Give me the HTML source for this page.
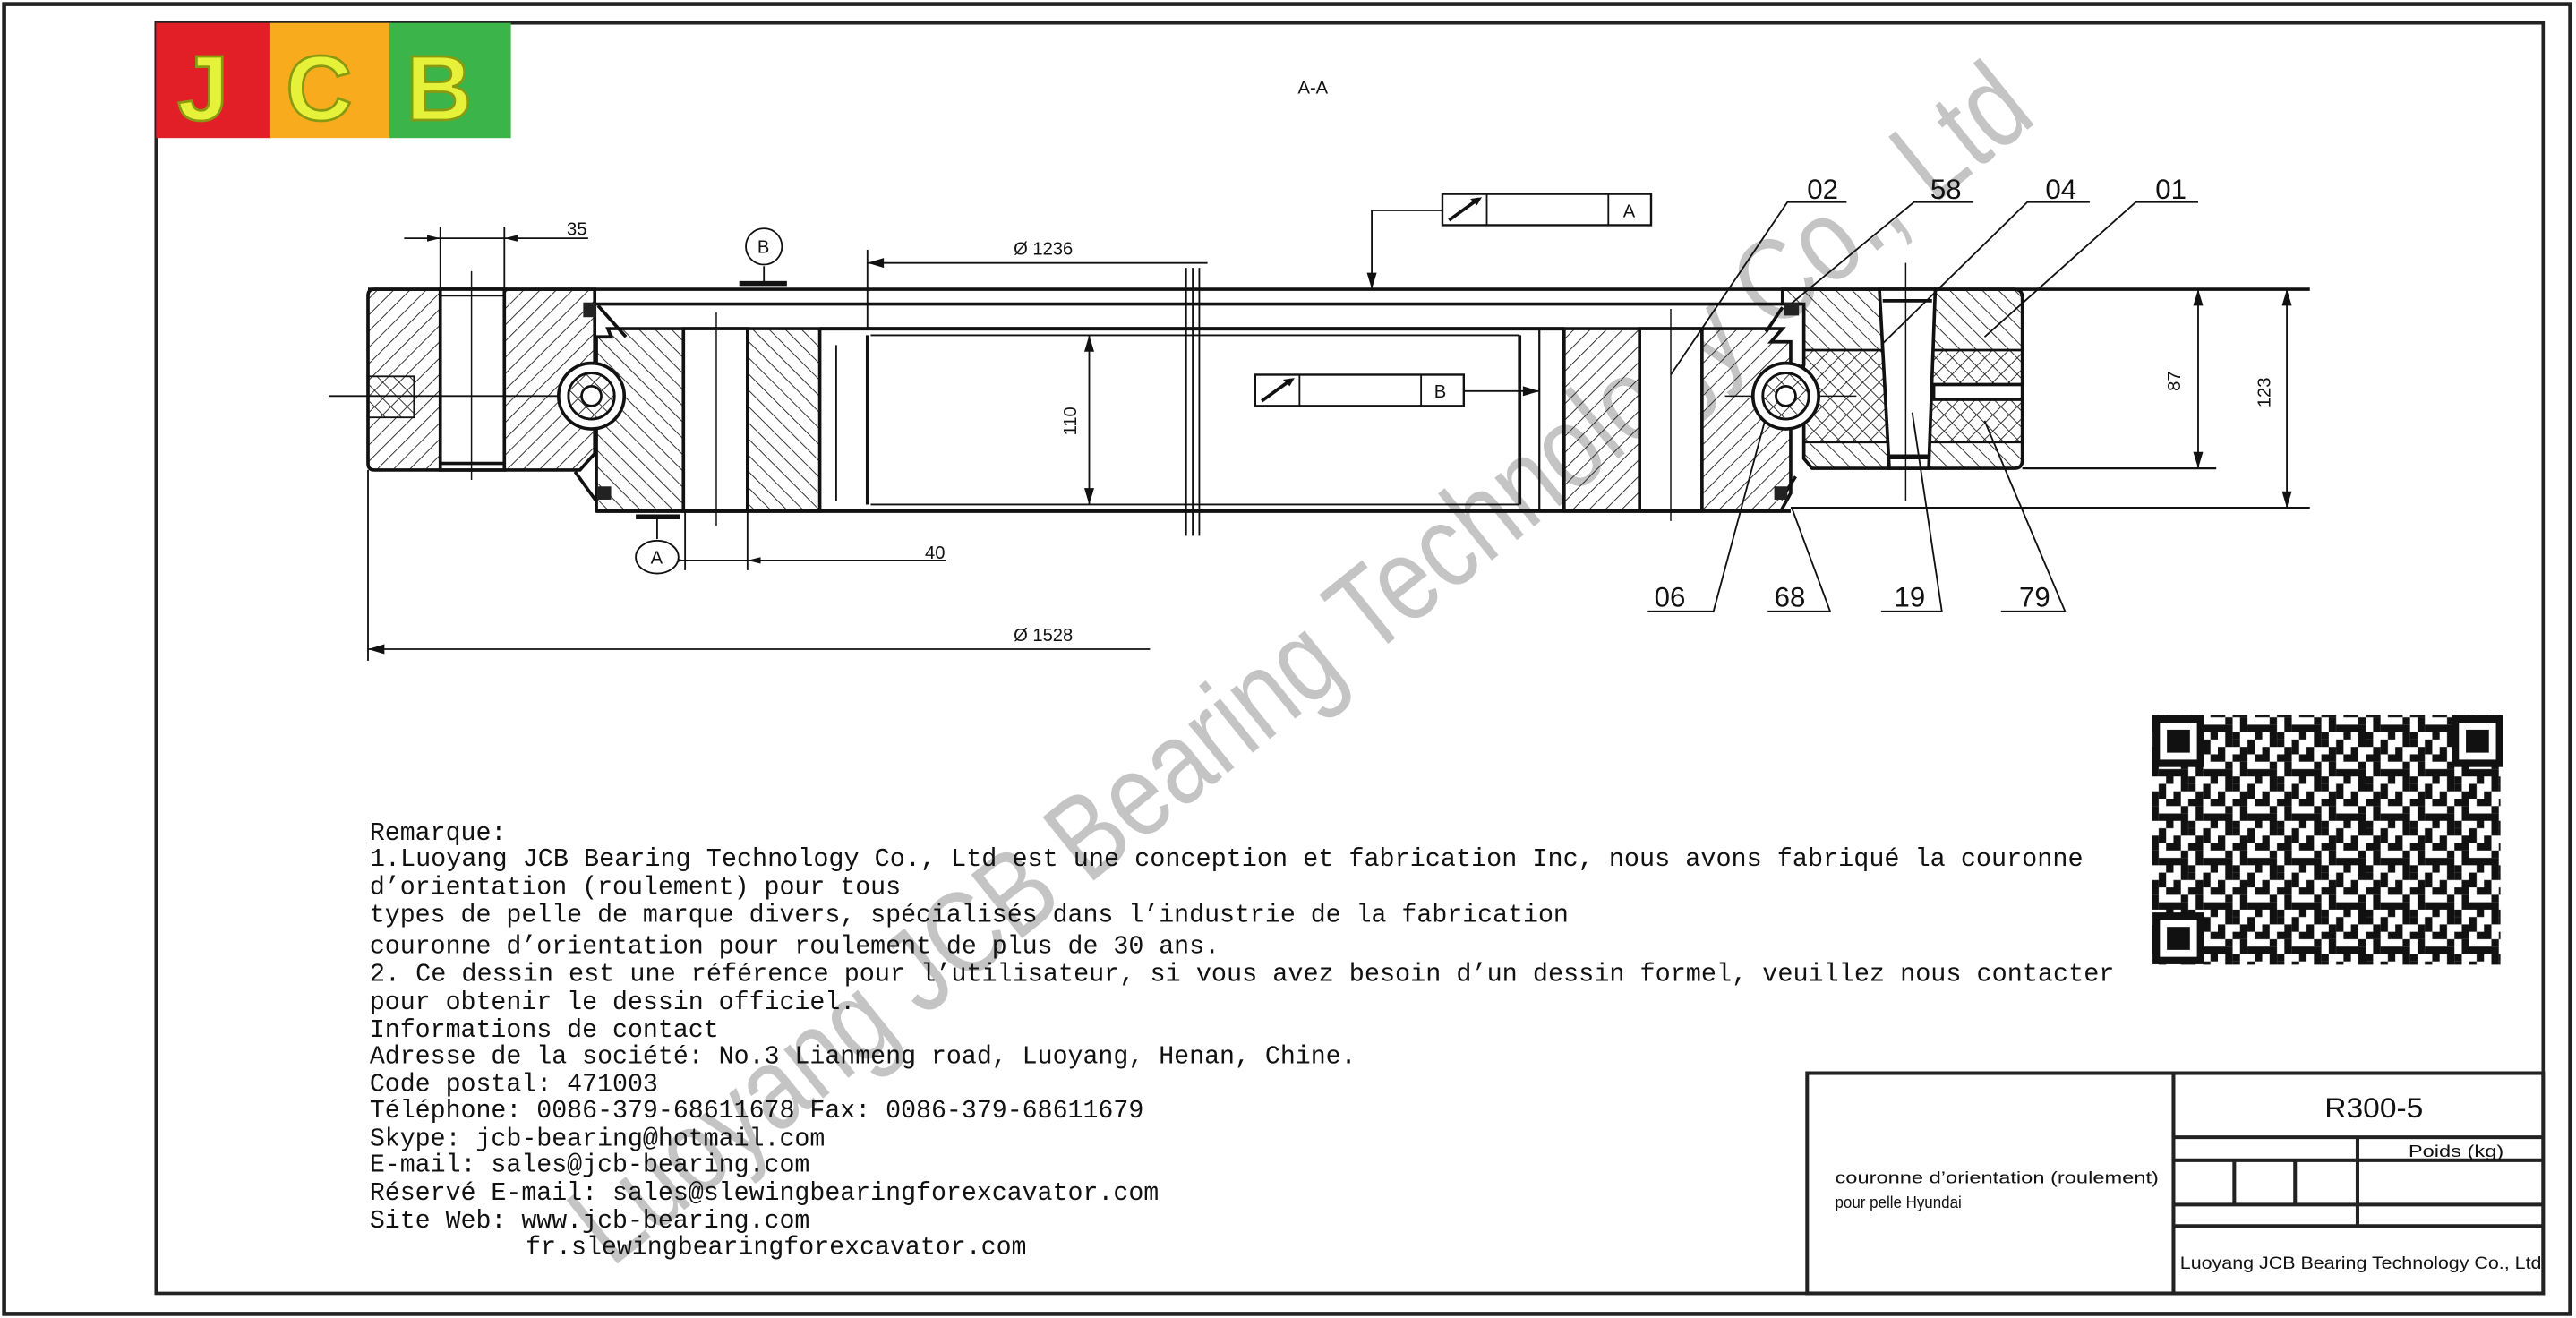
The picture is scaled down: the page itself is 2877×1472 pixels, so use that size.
<!DOCTYPE html>
<html><head><meta charset="utf-8"><style>
html,body{margin:0;padding:0;background:#fff;}
svg{display:block;}
.t{font-family:"Liberation Mono","Noto Sans CJK SC",monospace;font-size:15.4px;fill:#111;}
.n{font-family:"Liberation Sans",sans-serif;font-size:17px;fill:#111;}
.s{font-family:"Liberation Sans",sans-serif;font-size:11px;fill:#111;}
</style></head><body>
<svg width="2877" height="1472" viewBox="0 0 1568 802" preserveAspectRatio="none" xmlns="http://www.w3.org/2000/svg">
<defs>
<pattern id="h1" width="7" height="7" patternUnits="userSpaceOnUse" patternTransform="rotate(45)"><line x1="0" y1="0" x2="0" y2="7" stroke="#222" stroke-width="1"/></pattern>
<pattern id="h2" width="7" height="7" patternUnits="userSpaceOnUse" patternTransform="rotate(-45)"><line x1="0" y1="0" x2="0" y2="7" stroke="#222" stroke-width="1"/></pattern>
<pattern id="qr" width="27" height="27" patternUnits="userSpaceOnUse">
<rect width="27" height="27" fill="#fff"/>
<g fill="#111">
<rect x="0" y="0" width="4.5" height="4.5"/><rect x="9" y="0" width="9" height="4.5"/><rect x="22.5" y="0" width="4.5" height="4.5"/>
<rect x="4.5" y="4.5" width="4.5" height="4.5"/><rect x="13.5" y="4.5" width="4.5" height="9"/><rect x="18" y="9" width="9" height="4.5"/>
<rect x="0" y="9" width="9" height="4.5"/><rect x="4.5" y="13.5" width="4.5" height="9"/><rect x="9" y="18" width="4.5" height="4.5"/>
<rect x="18" y="18" width="4.5" height="9"/><rect x="0" y="22.5" width="4.5" height="4.5"/><rect x="13.5" y="22.5" width="4.5" height="4.5"/>
<rect x="22.5" y="13.5" width="4.5" height="4.5"/><rect x="9" y="13.5" width="4.5" height="4.5"/>
</g></pattern>
</defs>
<rect width="1568" height="802" fill="#fff"/>
<!-- frames -->
<rect x="2.5" y="2.5" width="1562" height="797" fill="none" stroke="#222" stroke-width="2.5"/>
<rect x="95" y="14" width="1453" height="773" fill="none" stroke="#222" stroke-width="2"/>
<!-- logo -->
<rect x="95" y="14" width="70" height="70" fill="#e21f26"/>
<rect x="164" y="14" width="74" height="70" fill="#f8ac1d"/>
<rect x="237" y="14" width="74" height="70" fill="#3bb54a"/>
<g font-family="Liberation Sans,sans-serif" font-weight="bold" font-size="56" fill="#e6f23a" stroke="#8a9a10" stroke-width="1.5">
<text x="108" y="73">J</text><text x="174" y="73">C</text><text x="247" y="73">B</text></g>
<text x="790" y="57" class="s" font-size="12">A-A</text>

<!-- watermark -->
<text x="0" y="0" transform="translate(372,772) rotate(-38.8)" font-family="Liberation Sans,sans-serif" font-size="72" fill="#c4c4c4" textLength="1115" lengthAdjust="spacingAndGlyphs">Luoyang JCB Bearing Technology Co., Ltd</text>

<g stroke="#111" fill="none">
<!-- long lines -->
<line x1="224" y1="176" x2="1406" y2="176" stroke-width="2"/>
<line x1="362" y1="185" x2="1085" y2="185" stroke-width="2"/>
<line x1="499" y1="200" x2="952" y2="200" stroke-width="2.2"/>
<line x1="530" y1="204" x2="925" y2="204" stroke-width="1"/>
<line x1="530" y1="307" x2="925" y2="307" stroke-width="1"/>
<line x1="363" y1="311" x2="1090" y2="311" stroke-width="2.2"/>
<line x1="1090" y1="309" x2="1406" y2="309" stroke-width="1.2"/>
<line x1="1231" y1="285" x2="1349" y2="285" stroke-width="1.2"/>
<!-- break -->
<line x1="722" y1="163" x2="722" y2="326" stroke-width="1"/><line x1="726" y1="163" x2="726" y2="326" stroke-width="1"/><line x1="730" y1="163" x2="730" y2="326" stroke-width="1"/>
<!-- middle verticals -->
<line x1="499" y1="200" x2="499" y2="311" stroke-width="1.2"/>
<line x1="528" y1="204" x2="528" y2="307" stroke-width="2"/>
<line x1="509" y1="210" x2="509" y2="305" stroke-width="1"/>
<line x1="925" y1="204" x2="925" y2="307" stroke-width="2"/>
<line x1="937" y1="200" x2="937" y2="311" stroke-width="1.2"/>
<line x1="952" y1="200" x2="952" y2="311" stroke-width="2"/>
</g>

<!-- left outer ring -->
<path d="M228,176 H362 V225 L348,241 L362,257 V276 L353,286 H228 Q224,286 224,282 V180 Q224,176 228,176Z" fill="url(#h1)" stroke="#111" stroke-width="2"/>
<rect x="268" y="176" width="39" height="110" fill="#fff" stroke="#111" stroke-width="2"/>
<line x1="268" y1="180" x2="307" y2="180" stroke="#111"/><line x1="268" y1="282" x2="307" y2="282" stroke="#111" stroke-width="2"/>
<rect x="224" y="229" width="28" height="25" fill="url(#h2)" stroke="#111" stroke-width="1"/>
<line x1="200" y1="241" x2="345" y2="241" stroke="#111" stroke-width="1"/>
<line x1="287" y1="165" x2="287" y2="292" stroke="#111" stroke-width="0.8"/>
<!-- left inner ring -->
<path d="M370,200 H499 V311 H363 V258 L372,250 L372,231 L363,223 V205 H372Z" fill="url(#h2)" stroke="#111" stroke-width="2"/>
<rect x="416" y="200" width="39" height="111" fill="#fff" stroke="#111" stroke-width="2"/>
<line x1="436" y1="190" x2="436" y2="320" stroke="#111" stroke-width="0.8"/>
<line x1="364" y1="186" x2="381" y2="205" stroke="#111" stroke-width="2"/>
<line x1="350" y1="287" x2="363" y2="305" stroke="#111" stroke-width="2"/>
<rect x="355" y="184" width="8" height="9" fill="#222"/><rect x="364" y="296" width="8" height="8" fill="#222"/>
<!-- left ball -->
<circle cx="360" cy="241" r="20" fill="#fff" stroke="#111" stroke-width="2"/>
<circle cx="360" cy="241" r="14" fill="url(#h1)" stroke="#111" stroke-width="1.5"/>
<circle cx="360" cy="241" r="14" fill="url(#h2)" stroke="#111" stroke-width="1.5"/>
<circle cx="360" cy="241" r="6" fill="#fff" stroke="#111" stroke-width="1.5"/>

<!-- right inner ring -->
<path d="M952,200 H1085 L1078,208 H1090 V228 L1078,241 L1090,254 V300 L1084,311 H952Z" fill="url(#h1)" stroke="#111" stroke-width="2"/>
<rect x="998" y="200" width="38" height="111" fill="#fff" stroke="#111" stroke-width="2"/>
<line x1="1017" y1="188" x2="1017" y2="317" stroke="#111" stroke-width="0.8"/>
<!-- right outer ring -->
<path d="M1085,176 H1226 Q1231,176 1231,181 V280 Q1231,285 1226,285 H1103 L1098,279 V254 L1090,247 V230 L1098,222 V185 H1085Z" fill="url(#h2)" stroke="#111" stroke-width="2"/>
<path d="M1098,213 H1231 V269 H1098Z" fill="url(#h1)" stroke="#111" stroke-width="1.5"/>
<path d="M1144,176 H1178 L1174,285 H1150Z" fill="#fff" stroke="#111" stroke-width="2"/>
<line x1="1146" y1="183" x2="1176" y2="183" stroke="#111" stroke-width="2"/>
<line x1="1150" y1="278" x2="1174" y2="278" stroke="#111" stroke-width="3"/>
<rect x="1177" y="234" width="54" height="9" fill="#fff" stroke="#111" stroke-width="2"/>
<line x1="1160" y1="160" x2="1160" y2="305" stroke="#111" stroke-width="0.8"/>
<line x1="1050" y1="241" x2="1130" y2="241" stroke="#111" stroke-width="0.8"/>
<line x1="1085" y1="187" x2="1075" y2="202" stroke="#111" stroke-width="2"/>
<line x1="1093" y1="290" x2="1084" y2="304" stroke="#111" stroke-width="2"/>
<rect x="1086" y="184" width="9" height="8" fill="#222"/><rect x="1080" y="296" width="8" height="8" fill="#222"/>
<circle cx="1087" cy="241" r="20" fill="#fff" stroke="#111" stroke-width="2"/>
<circle cx="1087" cy="241" r="14" fill="url(#h1)" stroke="#111" stroke-width="1.5"/>
<circle cx="1087" cy="241" r="14" fill="url(#h2)" stroke="#111" stroke-width="1.5"/>
<circle cx="1087" cy="241" r="6" fill="#fff" stroke="#111" stroke-width="1.5"/>

<!-- dimensions -->
<g stroke="#111" stroke-width="1" fill="none">
<line x1="268" y1="138" x2="268" y2="176"/><line x1="307" y1="138" x2="307" y2="176"/>
<line x1="246" y1="145" x2="358" y2="145"/>
<line x1="528" y1="152" x2="528" y2="200"/><line x1="528" y1="160" x2="735" y2="160"/>
<line x1="224" y1="286" x2="224" y2="402"/><line x1="224" y1="395" x2="700" y2="395"/>
<line x1="663" y1="204" x2="663" y2="307"/>
<line x1="417" y1="311" x2="417" y2="347"/><line x1="455" y1="311" x2="455" y2="347"/>
<line x1="402" y1="341" x2="576" y2="341"/>
<line x1="1338" y1="176" x2="1338" y2="285"/>
<line x1="1392" y1="176" x2="1392" y2="309"/>
<line x1="878" y1="128" x2="835" y2="128"/><line x1="835" y1="128" x2="835" y2="176"/>
<line x1="891" y1="238" x2="937" y2="238"/>
<line x1="465" y1="162" x2="465" y2="172"/><line x1="400" y1="315" x2="400" y2="328"/>
</g>
<g fill="#111">
<path d="M528,160 l10,-3 v6z"/><path d="M224,395 l10,-3 v6z"/>
<path d="M663,204 l-3,10 h6z"/><path d="M663,307 l-3,-10 h6z"/>
<path d="M1338,176 l-3,10 h6z"/><path d="M1338,285 l-3,-10 h6z"/>
<path d="M1392,176 l-3,10 h6z"/><path d="M1392,309 l-3,-10 h6z"/>
<path d="M835,176 l-3,-10 h6z"/><path d="M937,238 l-10,-3 v6z"/>
<path d="M268,145 l-8,-2 v4z"/><path d="M307,145 l8,-2 v4z"/>
<path d="M417,341 l-8,-2 v4z"/><path d="M455,341 l8,-2 v4z"/>
<rect x="450" y="171" width="29" height="3"/><rect x="387" y="313" width="27" height="3"/>
</g>
<text x="345" y="143" class="s">35</text>
<text x="617" y="155" class="s">Ø 1236</text>
<text x="617" y="390" class="s">Ø 1528</text>
<text x="563" y="340" class="s">40</text>
<text transform="translate(655,265) rotate(-90)" class="s">110</text>
<text transform="translate(1327,238) rotate(-90)" class="s">87</text>
<text transform="translate(1382,248) rotate(-90)" class="s">123</text>
<circle cx="465" cy="150" r="11" fill="#fff" stroke="#111"/><text x="461" y="154" class="s" font-size="10">B</text>
<ellipse cx="400" cy="339" rx="13" ry="10" fill="#fff" stroke="#111"/><text x="396" y="343" class="s" font-size="10">A</text>
<!-- tolerance boxes -->
<rect x="878" y="118" width="127" height="19" fill="#fff" stroke="#111" stroke-width="1.3"/>
<line x1="905" y1="118" x2="905" y2="137" stroke="#111"/><line x1="979" y1="118" x2="979" y2="137" stroke="#111"/>
<path d="M882,134 L900,121" stroke="#111" stroke-width="2"/><path d="M902,120 l-7,1 l4,4z" fill="#111"/>
<text x="988" y="132" class="s" font-size="10">A</text>
<rect x="764" y="228" width="127" height="19" fill="#fff" stroke="#111" stroke-width="1.3"/>
<line x1="791" y1="228" x2="791" y2="247" stroke="#111"/><line x1="865" y1="228" x2="865" y2="247" stroke="#111"/>
<path d="M768,244 L786,231" stroke="#111" stroke-width="2"/><path d="M788,230 l-7,1 l4,4z" fill="#111"/>
<text x="873" y="242" class="s" font-size="10">B</text>

<!-- part labels -->
<g stroke="#111" stroke-width="1" fill="none">
<path d="M1124,123 H1088 L1017,228"/>
<path d="M1201,123 H1165 L1090,185"/>
<path d="M1272,123 H1234 L1145,210"/>
<path d="M1338,123 H1300 L1208,205"/>
<path d="M1003,372 H1043 L1074,257"/>
<path d="M1076,372 H1114 L1091,310"/>
<path d="M1145,372 H1182 L1164,251"/>
<path d="M1218,372 H1257 L1208,256"/>
</g>
<g class="n"><text x="1100" y="121" class="n">02</text><text x="1175" y="121" class="n">58</text><text x="1245" y="121" class="n">04</text><text x="1312" y="121" class="n">01</text>
<text x="1007" y="369" class="n">06</text><text x="1080" y="369" class="n">68</text><text x="1153" y="369" class="n">19</text><text x="1229" y="369" class="n">79</text></g>

<!-- QR -->
<rect x="1310" y="435" width="212" height="152" fill="url(#qr)"/>
<g fill="#fff" stroke="#111" stroke-width="4.5">
<rect x="1312.5" y="437.5" width="27" height="27"/><rect x="1494.5" y="437.5" width="27" height="27"/><rect x="1312.5" y="557.5" width="27" height="27"/></g>
<g fill="#111"><rect x="1319" y="444" width="14" height="14"/><rect x="1501" y="444" width="14" height="14"/><rect x="1319" y="564" width="14" height="14"/></g>

<!-- notes -->
<g class="t">
<text x="225" y="511">Remarque:</text>
<text x="225" y="527" textLength="1043" lengthAdjust="spacingAndGlyphs">1.Luoyang JCB Bearing Technology Co., Ltd est une conception et fabrication Inc, nous avons fabriqué la couronne</text>
<text x="225" y="544">d’orientation (roulement) pour tous</text>
<text x="225" y="561">types de pelle de marque divers, spécialisés dans l’industrie de la fabrication</text>
<text x="225" y="580">couronne d’orientation pour roulement de plus de 30 ans.</text>
<text x="225" y="597" textLength="1062" lengthAdjust="spacingAndGlyphs">2. Ce dessin est une référence pour l’utilisateur, si vous avez besoin d’un dessin formel, veuillez nous contacter</text>
<text x="225" y="614">pour obtenir le dessin officiel.</text>
<text x="225" y="631">Informations de contact</text>
<text x="225" y="647">Adresse de la société: No.3 Lianmeng road, Luoyang, Henan, Chine.</text>
<text x="225" y="664">Code postal: 471003</text>
<text x="225" y="680">Téléphone: 0086-379-68611678 Fax: 0086-379-68611679</text>
<text x="225" y="697">Skype: jcb-bearing@hotmail.com</text>
<text x="225" y="713">E-mail: sales@jcb-bearing.com</text>
<text x="225" y="730">Réservé E-mail: sales@slewingbearingforexcavator.com</text>
<text x="225" y="747">Site Web: www.jcb-bearing.com</text>
<text x="320" y="763">fr.slewingbearingforexcavator.com</text>
</g>

<!-- title block -->
<g stroke="#222" stroke-width="2.2" fill="none">
<rect x="1100" y="653" width="448" height="134"/>
<line x1="1323" y1="653" x2="1323" y2="787"/>
<line x1="1323" y1="692" x2="1548" y2="692"/>
<line x1="1323" y1="706" x2="1548" y2="706"/>
<line x1="1323" y1="733" x2="1548" y2="733"/>
<line x1="1323" y1="746" x2="1548" y2="746"/>
<line x1="1435" y1="692" x2="1435" y2="746"/>
<line x1="1360" y1="706" x2="1360" y2="733"/>
<line x1="1397" y1="706" x2="1397" y2="733"/>
</g>
<text x="1415" y="680" font-family="Liberation Sans,sans-serif" font-size="17" fill="#111" textLength="60" lengthAdjust="spacingAndGlyphs">R300-5</text>
<text x="1466" y="704" font-family="Liberation Sans,sans-serif" font-size="10" fill="#111" textLength="58" lengthAdjust="spacingAndGlyphs">Poids (kg)</text>
<text x="1117" y="720" font-family="Liberation Sans,sans-serif" font-size="10" fill="#111" textLength="197" lengthAdjust="spacingAndGlyphs">couronne d’orientation (roulement)</text>
<text x="1117" y="735" font-family="Liberation Sans,sans-serif" font-size="10" fill="#111" textLength="77" lengthAdjust="spacingAndGlyphs">pour pelle Hyundai</text>
<text x="1327" y="772" font-family="Liberation Sans,sans-serif" font-size="10.5" fill="#111" textLength="220" lengthAdjust="spacingAndGlyphs">Luoyang JCB Bearing Technology Co., Ltd</text>
</svg>
</body></html>
